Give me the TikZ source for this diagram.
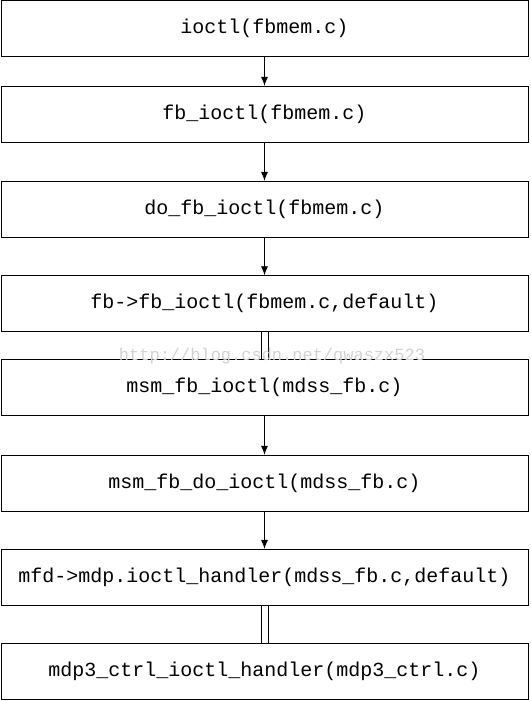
\documentclass[tikz,border=0pt]{standalone}
\usepackage{fontspec}
\setmonofont{Liberation Mono}
\usetikzlibrary{arrows.meta}
\begin{document}
\begin{tikzpicture}[x=1pt,y=-1pt,
  callbox/.style={draw, minimum width=527pt, minimum height=56pt, inner sep=0pt, font=\ttfamily\fontsize{20}{24}\selectfont},
  arr/.style={-{Latex[length=9pt,width=7pt]}, line width=0.8pt},
  same/.style={line width=0.8pt}]
\useasboundingbox (0,0) rectangle (530,701);
\node[callbox] (a) at (264.5,28.5) {ioctl(fbmem.c)};
\node[callbox] (b) at (264.5,114) {fb\_ioctl(fbmem.c)};
\node[callbox] (c) at (264.5,209) {do\_fb\_ioctl(fbmem.c)};
\node[callbox] (d) at (264.5,303.5) {fb->fb\_ioctl(fbmem.c,default)};
\node[callbox] (e) at (264.5,387.5) {msm\_fb\_ioctl(mdss\_fb.c)};
\node[callbox] (f) at (264.5,483) {msm\_fb\_do\_ioctl(mdss\_fb.c)};
\node[callbox] (g) at (264.5,577) {mfd->mdp.ioctl\_handler(mdss\_fb.c,default)};
\node[callbox] (h) at (264.5,671.5) {mdp3\_ctrl\_ioctl\_handler(mdp3\_ctrl.c)};
\draw[arr] (a) -- (b);
\draw[arr] (b) -- (c);
\draw[arr] (c) -- (d);
\draw[arr] (e) -- (f);
\draw[arr] (f) -- (g);
\draw[same] ([xshift=-3.5pt]d.south) -- ([xshift=-3.5pt]e.north);
\draw[same] ([xshift=3.5pt]d.south) -- ([xshift=3.5pt]e.north);
\draw[same] ([xshift=-3.5pt]g.south) -- ([xshift=-3.5pt]h.north);
\draw[same] ([xshift=3.5pt]g.south) -- ([xshift=3.5pt]h.north);
\node[text=gray!35, font=\ttfamily\fontsize{17}{19}\selectfont] (wm) at (272,356) {http://blog.csdn.net/qwaszx523};
\end{tikzpicture}
\end{document}
